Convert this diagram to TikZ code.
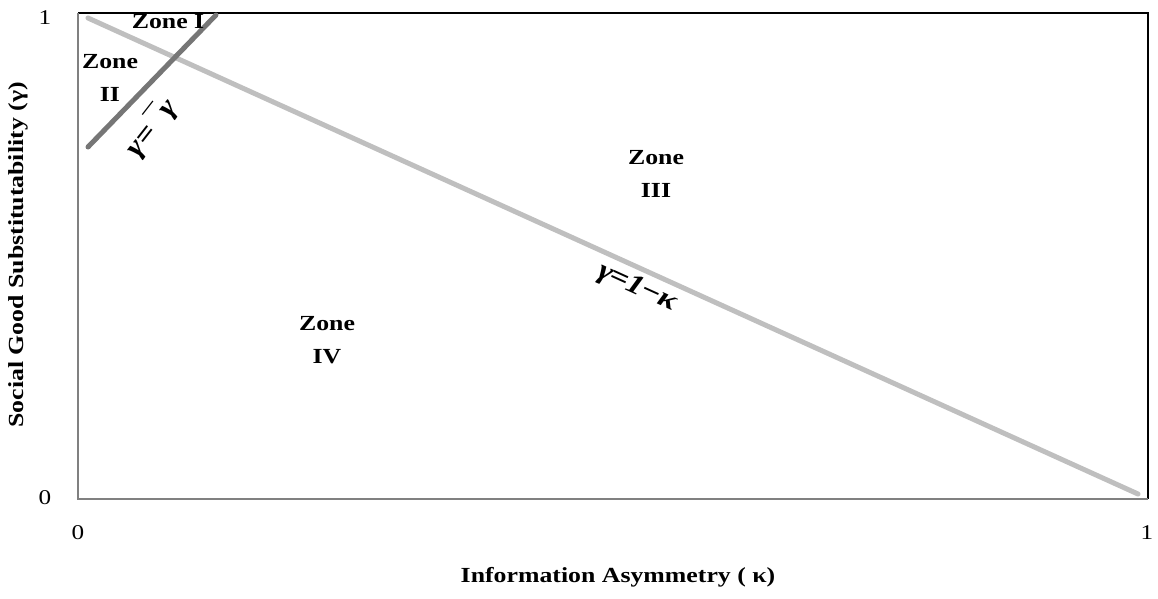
\documentclass[tikz,border=0pt]{standalone}
\usepackage{fontspec}
\setmainfont{Liberation Serif}[FakeStretch=1.2]
\definecolor{lightln}{RGB}{191,191,191}
\definecolor{darkln}{RGB}{118,118,118}
\definecolor{axgray}{RGB}{128,128,128}
\begin{document}
\begin{tikzpicture}[x=1pt,y=-1pt,
  zone/.style={font=\bfseries\fontsize{21.5}{33}\selectfont, align=center, inner sep=0pt},
  tick/.style={font=\fontsize{21}{22}\selectfont, inner sep=0pt},
  axlabel/.style={font=\bfseries\fontsize{21.5}{22}\selectfont, inner sep=0pt},
  eqlabel/.style={font=\bfseries\itshape\fontsize{28}{29}\selectfont, inner sep=0pt}]
\useasboundingbox (0,0) rectangle (1158,598);
% frame
\coordinate (tl) at (78,13);
\coordinate (tr) at (1148,13);
\coordinate (br) at (1148,499);
\coordinate (bl) at (78,499);
\draw[black, line width=1.2pt] (tl) -- (tr) -- (br);
\draw[axgray, line width=1.2pt] (tl) -- (bl) -- (br);
% lines
\coordinate (a1) at (88,18);
\coordinate (a2) at (1138,494);
\coordinate (b1) at (88,147);
\coordinate (b2) at (216,15);
\draw[lightln, line width=5pt, line cap=round] (a1) -- (a2);
\draw[darkln, line width=5pt, line cap=round] (b1) -- (b2);
% zone labels
\node[zone] (z1) at (168,22) {Zone I};
\node[zone] (z2) at (110,78) {Zone\\II};
\node[zone] (z3) at (656,174) {Zone\\III};
\node[zone] (z4) at (327,340) {Zone\\IV};
% equation labels
\node[eqlabel, rotate=52] (e1) at (151,128) {γ=\kern2pt\raisebox{2pt}{¯}\kern-1pt γ};
\node[eqlabel, rotate=-24.4] (e2) at (637,288) {γ\kern-2pt=\kern-1pt 1\kern-1pt−\kern-1pt κ};
% ticks
\node[tick] (y1) at (45,18) {1};
\node[tick] (y0) at (45,498) {0};
\node[tick] (x0) at (78,533) {0};
\node[tick] (x1) at (1147,533) {1};
% axis labels
\node[axlabel] (xl) at (618,577) {Information Asymmetry ( κ)};
\node[axlabel, rotate=90] (yl) at (18,255) {Social Good Substitutability (γ)};
\end{tikzpicture}
\end{document}
